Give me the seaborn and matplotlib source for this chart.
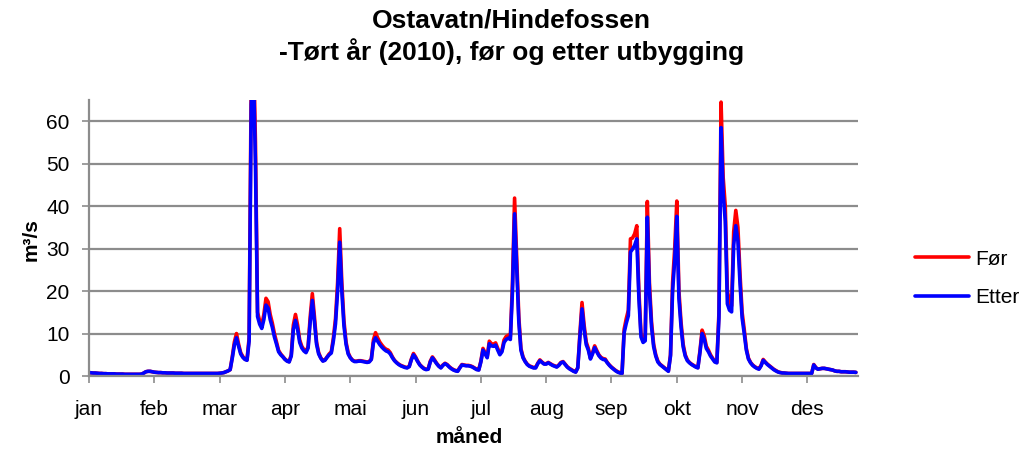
import pandas as pd
import matplotlib
matplotlib.use("Agg")
import matplotlib.pyplot as plt
import seaborn as sns

# Døgnmiddel vannføring (m3/s), 365 dager, lest av figuren
foer = [
    0.8, 0.75, 0.7, 0.7, 0.65, 0.6, 0.6, 0.55, 0.55, 0.5,
    0.5, 0.5, 0.5, 0.45, 0.45, 0.45, 0.45, 0.4, 0.4, 0.4,
    0.4, 0.4, 0.4, 0.4, 0.4, 0.45, 0.7, 1.0, 1.1, 1.1,
    1.0, 0.9, 0.85, 0.8, 0.8, 0.75, 0.75, 0.7, 0.7, 0.7,
    0.7, 0.65, 0.65, 0.65, 0.65, 0.6, 0.6, 0.6, 0.6, 0.6,
    0.6, 0.6, 0.6, 0.6, 0.6, 0.6, 0.6, 0.6, 0.6, 0.6,
    0.6, 0.6, 0.65, 0.7, 0.8, 1.0, 1.2, 1.5, 4.5, 8.0,
    10.0, 7.5, 5.5, 4.6, 4.0, 3.8, 9.0, 70.0, 80.0, 55.0,
    15.0, 13.0, 12.0, 14.5, 18.3, 17.5, 14.5, 12.5, 10.0, 8.0,
    6.0, 5.2, 4.6, 4.0, 3.6, 3.4, 5.0, 12.0, 14.5, 12.0,
    8.5, 7.0, 6.2, 5.7, 7.0, 14.0, 19.4, 14.0, 8.0, 5.5,
    4.3, 3.6, 3.8, 4.5, 5.2, 5.7, 9.0, 13.5, 22.0, 34.7,
    22.0, 13.0, 8.0, 5.5, 4.4, 3.8, 3.5, 3.5, 3.6, 3.6,
    3.5, 3.4, 3.3, 3.4, 4.0, 8.5, 10.2, 9.0, 8.0, 7.3,
    6.7, 6.3, 6.1, 5.5, 4.5, 3.7, 3.2, 2.8, 2.5, 2.3,
    2.1, 2.0, 2.3, 4.0, 5.3, 4.5, 3.5, 2.7, 2.2, 1.8,
    1.6, 1.7, 3.5, 4.5, 3.8, 3.0, 2.4, 2.0, 2.6, 3.0,
    2.7, 2.2, 1.8, 1.5, 1.3, 1.2, 2.0, 2.7, 2.6, 2.5,
    2.5, 2.4, 2.2, 1.9, 1.6, 1.5, 3.5, 6.5, 5.5, 4.5,
    8.2, 7.6, 7.5, 7.8, 6.5, 5.3, 6.0, 8.5, 9.3, 9.6,
    9.3, 22.0, 41.9, 28.0, 14.0, 6.5, 4.5, 3.5, 2.8, 2.4,
    2.2, 2.0, 2.0, 3.0, 3.8, 3.3, 2.9, 2.9, 3.2, 2.9,
    2.6, 2.4, 2.2, 2.6, 3.2, 3.4, 2.8, 2.2, 1.8, 1.5,
    1.2, 1.0, 2.0, 10.0, 17.3, 12.0, 8.0, 6.5, 4.2, 5.5,
    7.1, 6.0, 5.0, 4.4, 4.1, 4.0, 3.2, 2.6, 2.1, 1.7,
    1.3, 1.0, 0.8, 0.6, 11.0, 13.5, 15.5, 32.3, 32.5, 33.5,
    35.4, 20.0, 10.0, 8.5, 9.0, 41.1, 22.0, 12.7, 7.5, 5.0,
    3.5, 2.8, 2.4, 2.0, 1.6, 1.2, 5.0, 22.0, 30.0, 41.2,
    20.0, 12.7, 7.5, 5.0, 3.8, 3.2, 2.8, 2.5, 2.2, 2.0,
    6.0, 10.8, 9.5, 7.0, 6.1, 5.0, 4.2, 3.5, 3.2, 15.0,
    64.5, 46.8, 40.0, 20.0, 17.5, 16.5, 34.0, 39.0, 35.0, 24.0,
    15.0, 11.0, 6.5, 4.2, 3.2, 2.6, 2.2, 1.9, 1.7, 2.5,
    3.9, 3.3, 2.8, 2.4, 2.0, 1.6, 1.3, 1.0, 0.85, 0.75,
    0.7, 0.65, 0.6, 0.6, 0.6, 0.6, 0.6, 0.6, 0.6, 0.6,
    0.6, 0.6, 0.6, 0.6, 2.7, 2.0, 1.6, 1.7, 1.8, 1.8,
    1.7, 1.6, 1.5, 1.4, 1.2, 1.1, 1.1, 1.0, 1.0, 1.0,
    0.95, 0.9, 0.9, 0.9, 0.85,
]

etter = [
    0.8, 0.75, 0.7, 0.7, 0.65, 0.6, 0.6, 0.55, 0.55, 0.5,
    0.5, 0.5, 0.5, 0.45, 0.45, 0.45, 0.45, 0.4, 0.4, 0.4,
    0.4, 0.4, 0.4, 0.4, 0.4, 0.45, 0.7, 1.0, 1.1, 1.1,
    1.0, 0.9, 0.85, 0.8, 0.8, 0.75, 0.75, 0.7, 0.7, 0.7,
    0.7, 0.65, 0.65, 0.65, 0.65, 0.6, 0.6, 0.6, 0.6, 0.6,
    0.6, 0.6, 0.6, 0.6, 0.6, 0.6, 0.6, 0.6, 0.6, 0.6,
    0.6, 0.6, 0.65, 0.7, 0.8, 1.0, 1.2, 1.5, 4.2, 7.3,
    9.0, 7.0, 5.2, 4.4, 3.9, 3.7, 8.2, 64.0, 73.0, 50.0,
    14.0, 12.2, 11.2, 13.3, 16.7, 16.0, 13.3, 11.5, 9.2, 7.5,
    5.7, 5.0, 4.5, 3.9, 3.5, 3.3, 4.7, 11.0, 13.1, 11.0,
    7.9, 6.6, 5.9, 5.5, 6.6, 12.8, 17.8, 12.8, 7.5, 5.2,
    4.2, 3.5, 3.7, 4.4, 5.0, 5.4, 8.3, 12.3, 20.0, 31.5,
    20.0, 11.9, 7.5, 5.2, 4.3, 3.7, 3.4, 3.4, 3.5, 3.5,
    3.4, 3.3, 3.2, 3.3, 3.9, 7.8, 9.0, 8.2, 7.4, 6.8,
    6.3, 5.9, 5.7, 5.2, 4.3, 3.6, 3.1, 2.7, 2.4, 2.2,
    2.0, 1.9, 2.2, 3.8, 5.0, 4.3, 3.4, 2.6, 2.1, 1.7,
    1.5, 1.6, 3.3, 4.3, 3.6, 2.9, 2.3, 1.9, 2.5, 2.9,
    2.6, 2.1, 1.7, 1.4, 1.2, 1.1, 1.9, 2.6, 2.5, 2.4,
    2.4, 2.3, 2.1, 1.8, 1.5, 1.4, 3.3, 6.1, 5.2, 4.3,
    7.6, 7.1, 7.0, 7.3, 6.1, 5.0, 5.7, 7.9, 8.6, 8.9,
    8.6, 20.0, 38.2, 25.5, 12.8, 6.1, 4.3, 3.4, 2.7, 2.3,
    2.1, 1.9, 1.9, 2.9, 3.6, 3.2, 2.8, 2.8, 3.1, 2.8,
    2.5, 2.3, 2.1, 2.5, 3.1, 3.3, 2.7, 2.1, 1.7, 1.4,
    1.1, 0.9, 1.9, 9.2, 15.8, 11.0, 7.4, 6.1, 4.0, 5.2,
    6.7, 5.7, 4.8, 4.2, 3.9, 3.8, 3.1, 2.5, 2.0, 1.6,
    1.2, 0.9, 0.7, 0.6, 10.2, 12.4, 14.2, 29.2, 29.9, 30.8,
    32.3, 18.3, 9.2, 7.9, 8.3, 37.4, 20.0, 11.6, 6.9, 4.7,
    3.3, 2.7, 2.3, 1.9, 1.5, 1.1, 4.7, 20.0, 27.3, 37.6,
    18.3, 11.6, 6.9, 4.7, 3.6, 3.1, 2.7, 2.4, 2.1, 1.9,
    5.6, 10.0, 8.7, 6.5, 5.7, 4.7, 4.0, 3.3, 3.1, 13.7,
    58.5, 42.9, 36.5, 17.0, 15.5, 15.1, 30.9, 35.4, 31.8, 21.8,
    13.7, 10.0, 6.1, 4.0, 3.1, 2.5, 2.1, 1.8, 1.6, 2.4,
    3.7, 3.2, 2.7, 2.3, 1.9, 1.5, 1.2, 0.95, 0.8, 0.7,
    0.7, 0.65, 0.6, 0.6, 0.6, 0.6, 0.6, 0.6, 0.6, 0.6,
    0.6, 0.6, 0.6, 0.6, 2.6, 1.9, 1.6, 1.7, 1.8, 1.8,
    1.7, 1.6, 1.5, 1.4, 1.2, 1.1, 1.1, 1.0, 1.0, 1.0,
    0.95, 0.9, 0.9, 0.9, 0.85,
]

maaneder = ["jan", "feb", "mar", "apr", "mai", "jun",
            "jul", "aug", "sep", "okt", "nov", "des"]
serier = ["Før", "Etter"]
farger = {"Før": "#FF0000", "Etter": "#0000FF"}

dager = list(range(len(foer)))
df = pd.DataFrame({
    "dag": dager + dager,
    "vannforing": foer + etter,
    "serie": ["Før"] * len(foer) + ["Etter"] * len(etter),
})

sns.set_theme(style="white")
plt.rcParams["font.family"] = ["Liberation Sans", "DejaVu Sans"]
plt.rcParams["text.color"] = "black"
plt.rcParams["axes.labelcolor"] = "black"

W, H = 1023, 453
fig = plt.figure(figsize=(W / 100, H / 100), dpi=100)
ax = fig.add_axes([89 / W, 1 - 376 / H, 769 / W, 276 / H])

sns.lineplot(data=df, x="dag", y="vannforing", hue="serie", hue_order=serier,
             palette=farger, linewidth=2.6, estimator=None, ax=ax)

ax.set_xlim(0, 365)
ax.set_ylim(0, 65)
ax.set_yticks(range(0, 61, 10))
ax.set_xticks(range(0, 365, 31), labels=maaneder)

grå = "#8c8c8c"
ax.grid(axis="y", color=grå, linewidth=1.6)
ax.set_axisbelow(True)
for side in ["top", "right"]:
    ax.spines[side].set_visible(False)
for side in ["left", "bottom"]:
    ax.spines[side].set_color(grå)
    ax.spines[side].set_linewidth(1.6)

ax.tick_params(axis="both", bottom=True, left=True, direction="out",
               length=5, width=1.2, color=grå, labelsize=15, labelcolor="black")
ax.tick_params(axis="x", pad=12)
ax.tick_params(axis="y", pad=9)

ax.set_xlabel("måned", fontsize=15, fontweight="bold")
ax.set_ylabel("m³/s", fontsize=15, fontweight="bold")
ax.xaxis.set_label_coords(0.495, -0.19)
ax.yaxis.set_label_coords(-0.0624, 0.493)

handles, labels = ax.get_legend_handles_labels()
ax.legend(handles, labels, loc="center left",
          bbox_to_anchor=(915 / W, 1 - 278.5 / H), bbox_transform=fig.transFigure,
          frameon=False, fontsize=15, handlelength=2.6, handletextpad=0.3,
          labelspacing=0.95, borderpad=0, borderaxespad=0)

fig.text(0.5, 1 - 20 / H, "Ostavatn/Hindefossen", ha="center", va="center",
         fontsize=19, fontweight="bold")
fig.text(0.5, 1 - 52 / H, "-Tørt år (2010), før og etter utbygging", ha="center",
         va="center", fontsize=19, fontweight="bold")

fig.savefig("out.png", dpi=100)
